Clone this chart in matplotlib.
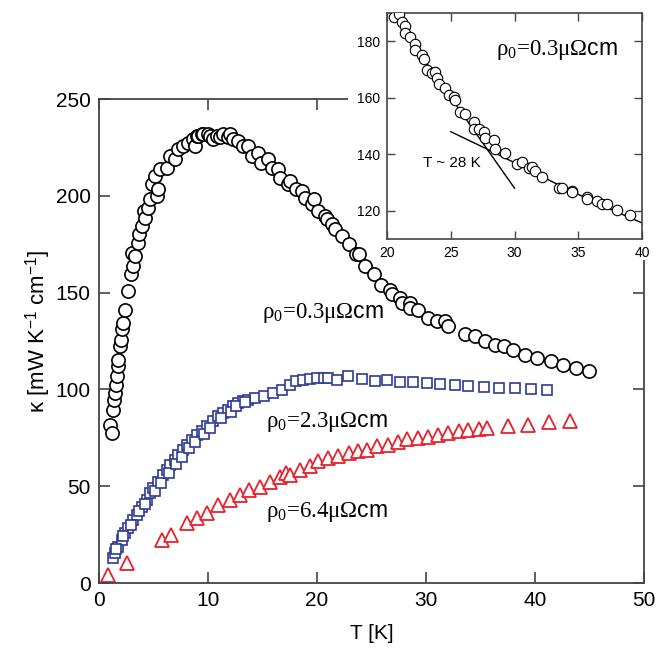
import numpy as np
import matplotlib
matplotlib.use("Agg")
import matplotlib.pyplot as plt
from matplotlib.patches import Rectangle

plt.rcParams['font.family'] = ['Liberation Sans', 'DejaVu Sans']
plt.rcParams['mathtext.fontset'] = 'custom'
plt.rcParams['mathtext.rm'] = 'Liberation Serif'
plt.rcParams['mathtext.it'] = 'Liberation Serif:italic'
plt.rcParams['mathtext.sf'] = 'Liberation Sans'

# rho0 = 0.3 (cercles)
T_03 = [1.01, 1.16, 1.31, 1.41, 1.47, 1.53, 1.62, 1.71, 1.77, 1.93, 2.02, 2.08, 2.23, 2.39,
        2.69, 2.94, 3.06, 3.15, 3.30, 3.55, 3.67, 3.92, 4.16, 4.22, 4.52, 4.68, 4.89, 5.14,
        5.29, 5.44, 5.6, 6.21, 6.51, 6.97, 7.28, 7.74, 8.2, 8.65, 8.8, 8.96, 9.11, 9.42, 9.57,
        10.03, 10.18, 10.5, 10.8, 11.1, 11.4, 11.86, 12.02, 12.3, 12.78, 13.24, 13.7, 14.0,
        14.6, 14.9, 15.5, 15.85, 16.4, 16.6, 17.37, 17.5, 18.1, 18.6, 18.9, 19.5, 19.7, 20.1,
        20.7, 20.9, 21.35, 21.65, 22.3, 22.9, 23.6, 23.9, 24.4, 25.2, 25.9, 26.7, 26.85, 27.6,
        27.8, 28.5, 28.5, 29.3, 30.2, 31.0, 31.7, 32.0, 33.6, 34.5, 35.4, 36.3, 37.2, 38.0,
        39.1, 40.2, 41.5, 42.6, 43.8, 45.0]
K_03 = [81.8, 77.5, 89.5, 94.7, 98.2, 102.5, 106.8, 112.0, 115.4, 122.3, 125.8, 131.0, 134.4, 141.3,
        150.8, 159.4, 170.6, 163.7, 168.9, 175.8, 180.1, 184.4, 192.2, 188.8, 194.0, 198.2, 206.0, 210.3,
        200.0, 203.4, 213.8, 214.6, 220.7, 219.0, 224.1, 225.8, 227.6, 229.3, 225.8, 231.0, 231.0, 231.9, 231.9,
        231.9, 231.0, 229.5, 231.0, 230.5, 231.9, 230.2, 231.9, 229.3, 228.4, 225.8, 225.8, 220.7,
        222.4, 217.2, 218.9, 214.6, 213.8, 209.5, 206.0, 207.7, 203.4, 202.6, 199.1, 195.7, 198.2, 192.2,
        189.6, 187.9, 185.3, 182.7, 179.2, 175.0, 169.8, 169.8, 163.7, 159.4, 154.2, 151.6, 149.1, 147.4,
        144.8, 144.8, 142.2, 141.3, 137.0, 135.3, 135.3, 132.7, 128.4, 127.5, 124.9, 123.2, 122.3, 120.6,
        118.0, 116.3, 114.6, 112.8, 111.1, 109.4]

# rho0 = 2.3 (carres)
T_23 = [1.31, 1.47, 1.77, 2.08, 2.39, 2.69, 3.15, 3.46, 3.92, 4.37, 4.68, 4.98, 5.44, 5.9,
        6.21, 6.51, 6.97, 7.28, 7.74, 8.05, 8.5, 8.96, 9.42, 9.88, 10.5, 10.95, 11.4, 11.86,
        12.3, 12.8, 13.24, 13.7, 14.3, 15.1, 16.0, 16.8, 17.5, 18.1, 18.7, 19.4, 20.0, 20.6,
        21.0, 21.8, 22.8, 24.1, 25.3, 26.4, 27.6, 28.8, 30.1, 31.3, 32.7, 33.9, 35.3, 36.7,
        38.2, 39.6, 41.1,
        1.6, 2.2, 2.9, 3.7, 4.2, 5.1, 5.7, 6.4, 7.1, 7.6, 8.3, 8.8, 9.6, 10.2, 11.2, 12.1, 12.6, 13.4]
K_23 = [12.8, 15.4, 18.8, 22.3, 25.7, 28.3, 32.6, 35.2, 39.5, 43.0, 46.4, 49.0, 52.4, 55.9,
        58.5, 61.1, 63.7, 66.3, 68.8, 71.4, 74.0, 76.6, 78.3, 80.9, 83.5, 86.1, 87.8, 89.5,
        91.3, 93.0, 93.8, 94.7, 95.6, 96.4, 98.2, 99.9, 102.5, 104.2, 105.0, 105.4, 105.9, 105.9,
        105.9, 104.8, 107.0, 105.5, 104.6, 104.8, 104.0, 103.6, 103.2, 102.8, 102.2, 102.0, 101.4, 101.0,
        100.6, 100.2, 99.5,
        17.5, 24.5, 30.0, 37.0, 41.0, 47.5, 51.5, 57.0, 61.5, 65.0, 70.0, 73.0, 77.0, 80.0, 85.0, 88.5, 91.5, 93.5]

# rho0 = 6.4 (triangles)
T_64 = [0.8, 2.54, 5.75, 6.6, 8.1, 8.96, 9.88, 10.95, 12.0, 12.9, 13.8, 14.8, 15.7, 16.6,
        17.2, 17.5, 18.4, 19.4, 20.1, 21.0, 21.95, 22.9, 23.8, 24.6, 25.5, 26.5, 27.4, 28.3,
        29.3, 30.2, 31.1, 32.0, 33.0, 33.9, 34.9, 35.6, 37.5, 39.4, 41.3, 43.2]
K_64 = [4.1, 10.2, 22.3, 24.8, 30.9, 33.5, 36.1, 40.4, 43.0, 45.5, 48.1, 49.8, 52.4, 55.0,
        56.8, 55.9, 58.5, 60.2, 62.8, 64.5, 65.4, 67.1, 68.0, 68.8, 70.6, 71.4, 73.1, 74.5,
        75.0, 75.6, 76.6, 77.6, 78.3, 78.9, 79.7, 79.9, 80.9, 81.8, 83.0, 83.5]

# encart
T_in = [20.52, 20.91, 21.18, 21.44, 21.44, 21.83, 22.22, 22.22, 22.74, 22.88, 23.14, 23.53, 23.79,
        23.92, 24.05, 24.57, 24.84, 25.23, 25.36, 25.75, 26.14, 26.8, 26.8, 27.19, 27.58, 27.71,
        28.36, 28.5, 29.28, 30.2, 30.59, 31.11, 31.37, 31.63, 32.16, 33.46, 33.72, 34.51, 34.51,
        35.68, 35.68, 36.47, 36.86, 37.25, 38.04, 39.08]
K_in = [188.6, 189.5, 186.8, 185.3, 182.9, 181.5, 179.2, 176.8, 175.0, 173.9, 169.7, 168.8, 169.2,
        167.1, 165.0, 163.6, 160.9, 160.3, 159.1, 155.0, 154.4, 151.5, 149.1, 149.1, 147.9, 145.6,
        145.0, 142.0, 140.5, 136.7, 137.3, 135.0, 135.5, 134.1, 132.0, 128.2, 128.2, 127.1, 126.7,
        124.7, 124.0, 123.5, 122.3, 122.3, 120.2, 118.5]
fit_hi_T = [20.2, 30.0]
fit_hi_K = [191.0, 128.0]
fit_lo_T = [25.0, 28.0, 30.0, 32.5, 35.0, 37.5, 40.0]
fit_lo_K = [148.0, 141.5, 137.0, 131.3, 125.8, 120.6, 115.7]

blue = '#2d3b96'
red = '#e8212b'
spine_col = '#444444'

fig = plt.figure(figsize=(6.62, 6.61), dpi=100)
ax = fig.add_axes([0.1495, 0.118, 0.8233, 0.732])

ax.plot(T_03, K_03, 'o', ms=9.5, mfc='white', mec='black', mew=1.2, zorder=3)
ax.plot(T_23, K_23, 's', ms=7.5, mfc='white', mec=blue, mew=1.2, zorder=2)
ax.plot(T_64, K_64, '^', ms=10, mfc='white', mec=red, mew=1.3, zorder=2)

ax.set_xlim(0, 50)
ax.set_ylim(0, 250)
ax.set_xticks([0, 10, 20, 30, 40, 50])
ax.set_yticks([0, 50, 100, 150, 200, 250])
ax.tick_params(direction='in', length=8, width=1.2, color=spine_col, labelsize=15,
               top=True, right=True, pad=6)
for s in ax.spines.values():
    s.set_color(spine_col)
    s.set_linewidth(1.3)
ax.set_xlabel('T [K]', fontsize=15, labelpad=10)
ax.set_ylabel(r'κ [mW K$^{\mathsf{-1}}$ cm$^{\mathsf{-1}}$]', fontsize=16)
ax.yaxis.set_label_coords(-0.085, 0.52)

lab = r'$\mathrm{\rho_0}$=%sμΩ$\mathsf{cm}$'
txt = dict(fontsize=16.5, ha='center', va='center', family='Liberation Serif')
ax.text(20.55, 139.7, lab % '0.3', **txt)
ax.text(20.9, 83.3, lab % '2.3', **txt)
ax.text(20.9, 36.5, lab % '6.4', **txt)

# fond blanc derriere l'encart
fig.add_artist(Rectangle((348 / 662, 1 - 150 / 661), 1 - 348 / 662, 150 / 661,
                         transform=fig.transFigure, facecolor='white', edgecolor='none', zorder=1))
fig.add_artist(Rectangle((386 / 662, 1 - 260 / 661), 1 - 386 / 662, 260 / 661,
                         transform=fig.transFigure, facecolor='white', edgecolor='none', zorder=1))

axin = fig.add_axes([0.5846, 0.6384, 0.3852, 0.3419], zorder=2)
axin.plot(T_in, K_in, 'o', ms=7.5, mfc='white', mec='black', mew=0.8, zorder=3)
axin.plot(fit_hi_T, fit_hi_K, '-', color='black', lw=1.0)
axin.plot(fit_lo_T, fit_lo_K, '-', color='black', lw=1.0)
axin.set_xlim(20, 40)
axin.set_ylim(110, 190)
axin.set_xticks([20, 25, 30, 35, 40])
axin.set_yticks([120, 140, 160, 180])
axin.tick_params(direction='in', length=6, width=1.0, color=spine_col, labelsize=10,
                 top=True, right=True, pad=5)
for s in axin.spines.values():
    s.set_color(spine_col)
    s.set_linewidth(1.2)
axin.text(33.3, 176.8, lab % '0.3', **txt)
axin.text(25.1, 137.0, 'T ~ 28 K', fontsize=11, ha='center', va='center')

fig.savefig('out.png', dpi=100)
